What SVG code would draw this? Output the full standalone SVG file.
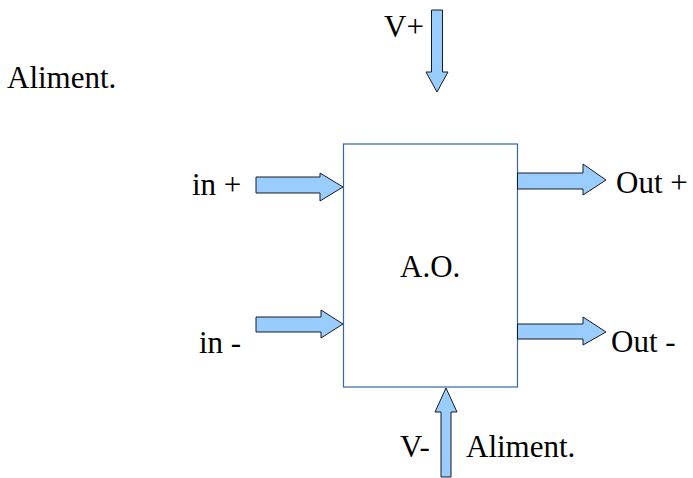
<svg xmlns="http://www.w3.org/2000/svg" width="693" height="478" viewBox="0 0 693 478">
<style>
.t{font-family:'Times New Roman','Liberation Serif',serif;font-size:31px;fill:#000}
.arr{fill:#99ccff;stroke:#1a1a1a;stroke-width:1}
.box{fill:#fff;stroke:#3465a4;stroke-width:1.2}
</style>
<rect width="693" height="478" fill="#fff"/>
<g id="supply-label"><text class="t" x="7" y="88">Aliment.</text></g>
<g id="opamp"><rect class="box" x="343.5" y="144" width="174" height="243"/><text class="t" x="400" y="277">A.O.</text></g>
<g id="vplus"><text class="t" x="384" y="37">V+</text></g>
<g id="inplus"><text class="t" x="192" y="195">in +</text></g>
<g id="inminus"><text class="t" x="199" y="353">in -</text></g>
<g id="outplus"><text class="t" x="616" y="193">Out +</text></g>
<g id="outminus"><text class="t" x="611" y="352">Out -</text></g>
<g id="vminus"><text class="t" x="400" y="457">V-</text><text class="t" x="466" y="457">Aliment.</text></g>
<g id="connectors">
<polygon class="arr" points="431.5,10 442.5,10 442.5,72 448,72 437,92 426,72 431.5,72"/>
<polygon class="arr" points="256,177 320,177 320,173 343,187 320,201 320,193 256,193"/>
<polygon class="arr" points="256,317 321,317 321,310 343,324 321,338 321,332 256,332"/>
<polygon class="arr" points="517.5,173 583,173 583,164 606,180 583,195 583,189 517.5,189"/>
<polygon class="arr" points="517.5,324 583,324 583,317 606,332 583,345 583,339 517.5,339"/>
<polygon class="arr" points="441,477 451,477 451,412 457,412 446,388 435,412 441,412"/>
</g>
</svg>
